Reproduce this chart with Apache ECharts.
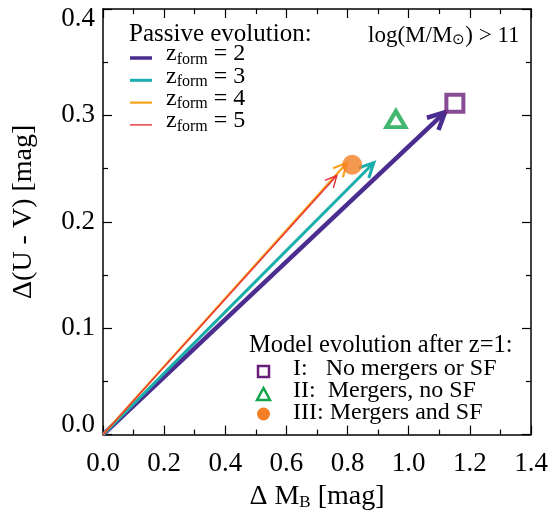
<!DOCTYPE html>
<html>
<head>
<meta charset="utf-8">
<script src="https://cdn.jsdelivr.net/npm/echarts@6/dist/echarts.min.js"></script>
<style>
  html, body { margin: 0; padding: 0; background: #fff; }
  #chart { width: 558px; height: 516px; }
</style>
</head>
<body>
<div id="chart"></div>
<script>
// Passive evolution arrows (origin -> end) and the three model end points.
const zForm = [2, 3, 4, 5];
const arrowDM = [1.119, 0.886, 0.798, 0.765];
const arrowDUV = [0.303, 0.2555, 0.2555, 0.2435];
const arrowColors = ['#4a2d8f', '#19aeab', '#f7a21b', '#e8303a'];
const arrowWidths = [4.5, 3, 2.2, 1.4];
const arrowHeads = [19, 16, 15, 13];

const modelNames = ['I:   No mergers or SF', 'II:  Mergers, no SF', 'III: Mergers and SF'];
const modelDM = [1.151, 0.958, 0.815];
const modelDUV = [0.3115, 0.2965, 0.2536];

const xTicks = [0, 0.2, 0.4, 0.6, 0.8, 1.0, 1.2, 1.4];
const yTicks = [0, 0.1, 0.2, 0.3, 0.4];

const FONT = 'Liberation Serif';
const chart = echarts.init(document.getElementById('chart'), null, { renderer: 'canvas' });

function axisBase(extra) {
  return Object.assign({
    type: 'value',
    axisLine: { show: true, onZero: false, lineStyle: { color: '#000', width: 1.5 } },
    axisTick: { show: true, inside: true, length: 9, lineStyle: { color: '#000', width: 1.2 } },
    minorTick: { show: true, splitNumber: 2, length: 5, lineStyle: { color: '#000', width: 1.2 } },
    splitLine: { show: false },
  }, extra);
}

const xAxisCommon = { min: xTicks[0], max: xTicks[xTicks.length - 1], interval: 0.2 };
const yAxisCommon = { min: yTicks[0], max: yTicks[yTicks.length - 1], interval: 0.1 };

// arrow = straight shaft + open chevron head
function renderArrow(params, api) {
  const i = params.dataIndex;
  const p0 = api.coord([0, 0]);
  const p1 = api.coord([api.value(0), api.value(1)]);
  const ang = Math.atan2(p1[1] - p0[1], p1[0] - p0[0]);
  const L = arrowHeads[i];
  const spread = 0.46;
  const a = [p1[0] - L * Math.cos(ang - spread), p1[1] - L * Math.sin(ang - spread)];
  const b = [p1[0] - L * Math.cos(ang + spread), p1[1] - L * Math.sin(ang + spread)];
  const style = { stroke: arrowColors[i], lineWidth: arrowWidths[i], fill: null, lineJoin: 'miter' };
  return {
    type: 'group',
    children: [
      { type: 'polyline', shape: { points: [p0, p1] }, style: style },
      { type: 'polyline', shape: { points: [a, p1, b] }, style: style },
    ],
  };
}

function txt(left, top, text, size, rich) {
  const style = { text: text, fontFamily: FONT, fontSize: size, fill: '#000' };
  if (rich) style.rich = rich;
  return { type: 'text', left: left, top: top, style: style };
}

const legendTop = 58, legendStep = 22.3;
const graphics = [
  txt(129, 22, 'Passive evolution:', 25),
  txt(368, 24, 'log(M/M{sub|\u2299}) > 11', 23,
    { sub: { fontSize: 15, fontFamily: FONT, padding: [9, 0, 0, 0] } }),
  txt(249, 333, 'Model evolution after z=1:', 24.5),
];
zForm.forEach((z, i) => {
  const y = legendTop + i * legendStep;
  graphics.push({ type: 'line', shape: { x1: 130, y1: y, x2: 152, y2: y },
    style: { stroke: arrowColors[i], lineWidth: Math.min(arrowWidths[i], 3.5) } });
  graphics.push(txt(166, y - 16, 'z{sub|form} = ' + z, 24,
    { sub: { fontSize: 16, fontFamily: FONT, padding: [11, 0, 0, 0] } }));
});
const modelSym = [
  { type: 'rect', shape: { x: 258, y: 366, width: 11, height: 11 }, style: { fill: null, stroke: '#6a1f7b', lineWidth: 2.5 } },
  { type: 'polygon', shape: { points: [[263.5, 388], [257, 400], [270, 400]] }, style: { fill: null, stroke: '#12a54b', lineWidth: 2.5 } },
  { type: 'circle', shape: { cx: 263.5, cy: 414, r: 6.5 }, style: { fill: '#f27f25' } },
];
modelNames.forEach((n, i) => {
  graphics.push(modelSym[i]);
  graphics.push(txt(293, 357 + i * 22, n, 24));
});

chart.setOption({
  backgroundColor: '#fff',
  animation: false,
  textStyle: { fontFamily: FONT },
  grid: { left: 103, right: 27, top: 9, bottom: 79 },
  xAxis: [
    axisBase(Object.assign({
      position: 'bottom',
      name: '\u0394 M{sub|B} [mag]',
      nameLocation: 'middle',
      nameGap: 47,
      nameTextStyle: {
        fontFamily: FONT, fontSize: 28, color: '#000',
        rich: { sub: { fontFamily: FONT, fontSize: 17, padding: [12, 0, 0, 0] } },
      },
      axisLabel: { color: '#000', fontFamily: FONT, fontSize: 27, margin: 16,
        formatter: (v) => v.toFixed(1) },
    }, xAxisCommon)),
    axisBase(Object.assign({ position: 'top', axisLabel: { show: false } }, xAxisCommon)),
  ],
  yAxis: [
    axisBase(Object.assign({
      position: 'left',
      name: '\u0394(U - V) [mag]',
      nameLocation: 'middle',
      nameRotate: 90,
      nameGap: 65,
      nameTextStyle: { fontFamily: FONT, fontSize: 28, color: '#000', padding: [0, 0, 0, 20] },
      axisLabel: { color: '#000', fontFamily: FONT, fontSize: 27, margin: 8, lineHeight: 19,
        verticalAlignMinLabel: 'bottom', verticalAlignMaxLabel: 'top',
        formatter: (v) => v.toFixed(1) },
    }, yAxisCommon)),
    axisBase(Object.assign({ position: 'right', axisLabel: { show: false } }, yAxisCommon)),
  ],
  series: [
    {
      type: 'custom',
      renderItem: renderArrow,
      clip: false,
      data: arrowDM.map((x, i) => [x, arrowDUV[i]]),
      encode: { x: 0, y: 1 },
      z: 2,
    },
    {
      type: 'scatter', symbol: 'rect', symbolSize: 17,
      data: [[modelDM[0], modelDUV[0]]],
      itemStyle: { color: '#fff', borderColor: '#6a1f7b', borderWidth: 4 },
      z: 3,
    },
    {
      type: 'scatter', symbol: 'triangle', symbolSize: [19, 16],
      data: [[modelDM[1], modelDUV[1]]],
      itemStyle: { color: '#fff', borderColor: '#12a54b', borderWidth: 4 },
      z: 3,
    },
    {
      type: 'scatter', symbol: 'circle', symbolSize: 20,
      data: [[modelDM[2], modelDUV[2]]],
      itemStyle: { color: '#f27f25' },
      z: 4,
    },
  ],
  graphic: graphics,
});
</script>
</body>
</html>
